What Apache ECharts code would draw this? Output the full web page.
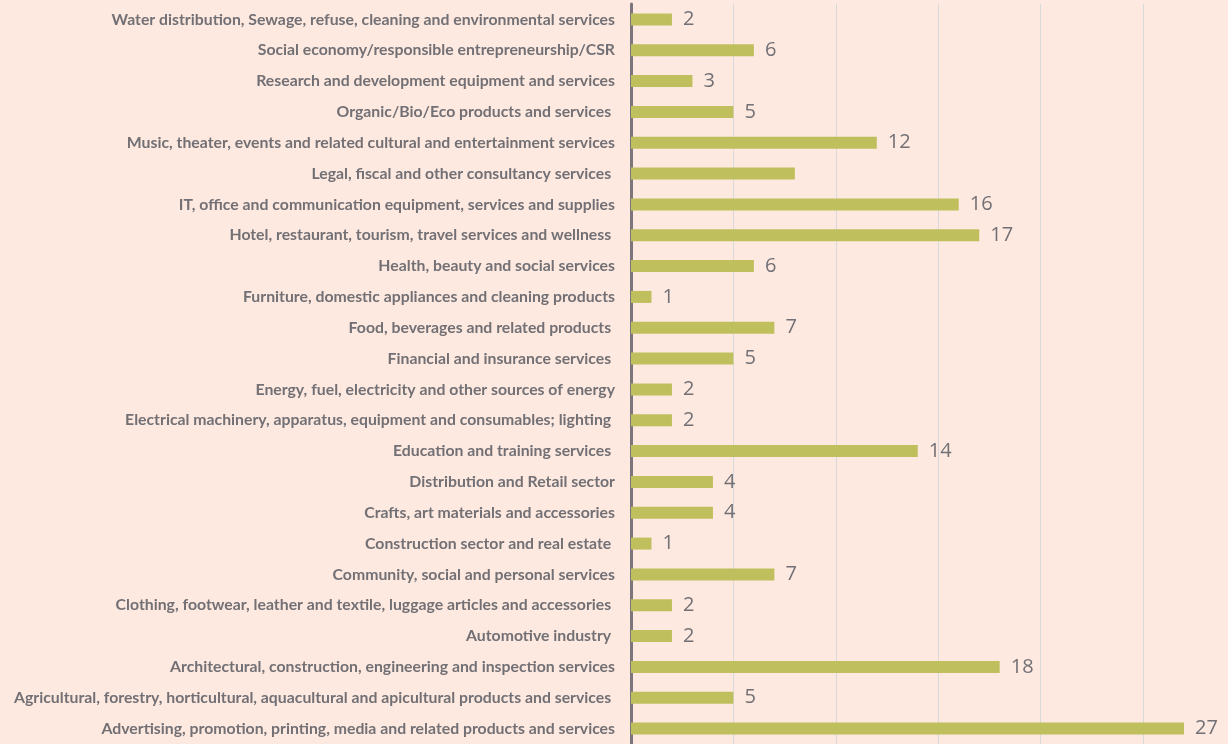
<!DOCTYPE html>
<html>
<head>
<meta charset="utf-8">
<script src="https://cdn.jsdelivr.net/npm/echarts@6/dist/echarts.min.js"></script>
<style>
html,body{margin:0;padding:0;background:#FDE9DF;}
#chart{width:1228px;height:744px;}
</style>
</head>
<body>
<div id="chart"></div>
<script>
// Categories listed bottom to top (as ECharts draws category y-axes)
const categories = [
  "Advertising, promotion, printing, media and related products and services",
  "Agricultural, forestry, horticultural, aquacultural and apicultural products and services ",
  "Architectural, construction, engineering and inspection services",
  "Automotive industry ",
  "Clothing, footwear, leather and textile, luggage articles and accessories ",
  "Community, social and personal services",
  "Construction sector and real estate ",
  "Crafts, art materials and accessories",
  "Distribution and Retail sector",
  "Education and training services ",
  "Electrical machinery, apparatus, equipment and consumables; lighting ",
  "Energy, fuel, electricity and other sources of energy",
  "Financial and insurance services ",
  "Food, beverages and related products ",
  "Furniture, domestic appliances and cleaning products",
  "Health, beauty and social services",
  "Hotel, restaurant, tourism, travel services and wellness ",
  "IT, office and communication equipment, services and supplies",
  "Legal, fiscal and other consultancy services ",
  "Music, theater, events and related cultural and entertainment services",
  "Organic/Bio/Eco products and services ",
  "Research and development equipment and services",
  "Social economy/responsible entrepreneurship/CSR",
  "Water distribution, Sewage, refuse, cleaning and environmental services"
];
const values = [27, 5, 18, 2, 2, 7, 1, 4, 4, 14, 2, 2, 5, 7, 1, 6, 17, 16, 8, 12, 5, 3, 6, 2];
// categories whose value label is not shown in the reference
const hiddenLabels = ["Legal, fiscal and other consultancy services "];

const seriesData = values.map((v, i) => {
  const item = { value: v };
  if (hiddenLabels.includes(categories[i])) item.label = { show: false };
  return item;
});

const chart = echarts.init(document.getElementById('chart'));
chart.setOption({
  backgroundColor: '#FDE9DF',
  animation: false,
  grid: { left: 631, right: 3, top: 4, bottom: 0, containLabel: false },
  xAxis: {
    type: 'value',
    min: 0,
    max: 29,
    interval: 5,
    axisLabel: { show: false },
    axisLine: { show: false },
    axisTick: { show: false },
    splitLine: { show: true, showMaxLine: false, lineStyle: { color: '#D9D9DC', width: 1 } }
  },
  yAxis: {
    type: 'category',
    data: categories,
    axisTick: { show: false },
    axisLine: { show: true, lineStyle: { color: '#7B767C', width: 3 } },
    axisLabel: {
      margin: 16,
      color: '#727075',
      fontFamily: 'Lato',
      fontWeight: 'bold',
      fontSize: 15.8,
      interval: 0
    }
  },
  series: [{
    type: 'bar',
    data: seriesData,
    barWidth: 12,
    itemStyle: { color: '#C0BF5E' },
    label: {
      show: true,
      position: 'right',
      distance: 11,
      color: '#727075',
      fontFamily: 'Open Sans',
      fontSize: 20
    }
  }]
});
</script>
</body>
</html>
